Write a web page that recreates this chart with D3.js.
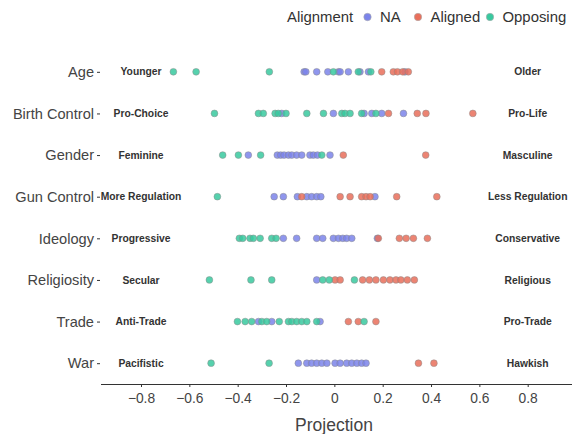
<!DOCTYPE html>
<html><head><meta charset="utf-8">
<script src="https://cdn.jsdelivr.net/npm/d3@7"></script>
<style>body{margin:0;background:#fff}svg{font-family:"Liberation Sans",Arial,sans-serif}</style>
</head><body><svg id="c" width="572" height="434"></svg>
<script>
const categories = ["Age","Birth Control","Gender","Gun Control","Ideology","Religiosity","Trade","War"];
const leftLabels = ["Younger","Pro-Choice","Feminine","More Regulation","Progressive","Secular","Anti-Trade","Pacifistic"];
const rightLabels = ["Older","Pro-Life","Masculine","Less Regulation","Conservative","Religious","Pro-Trade","Hawkish"];
const groups = ["NA","Aligned","Opposing"];
const groupColors = ["#7b84ea","#e96f5b","#38c99f"];
const xTicks = [-0.8,-0.6,-0.4,-0.2,0,0.2,0.4,0.6,0.8];

// values per category: [NA], [Aligned], [Opposing]
const naValues = [
  [-0.125,-0.118,-0.073,-0.027,0.017,0.024,0.058,0.106,0.141,0.292],
  [-0.218,-0.004,0.123,0.155,0.196,0.286],
  [-0.356,-0.236,-0.222,-0.208,-0.19,-0.176,-0.156,-0.135,-0.101,-0.087,-0.07,-0.018],
  [-0.249,-0.211,-0.153,-0.114,-0.094,-0.073,-0.056,0.168],
  [-0.211,-0.156,-0.073,-0.048,-0.004,0.017,0.035,0.051,0.072,0.178],
  [-0.073],
  [-0.314,-0.259,-0.059],
  [-0.149,-0.114,-0.094,-0.073,-0.052,-0.031,0.003,0.024,0.051,0.072,0.093,0.113,0.131]
];
const alignedValues = [
  [0.196,0.244,0.261,0.283,0.306],
  [0.224,0.343,0.379,0.573],
  [0.037,0.378],
  [-0.135,0.024,0.065,0.113,0.131,0.148,0.258,0.424],
  [0.182,0.269,0.297,0.327,0.385],
  [0.003,0.024,0.117,0.145,0.172,0.203,0.23,0.255,0.275,0.302,0.331],
  [0.058,0.099,0.172],
  [0.348,0.412]
];
const opposingValues = [
  [-0.666,-0.572,-0.269,-0.004,0.099,0.151],
  [-0.496,-0.314,-0.294,-0.245,-0.232,-0.2,-0.114,-0.045,0.031,0.044,0.065,0.113,0.172],
  [-0.462,-0.397,-0.305,-0.052],
  [-0.484],
  [-0.393,-0.379,-0.349,-0.335,-0.307,-0.259,-0.241],
  [-0.517,-0.345,-0.259,-0.048,-0.021,0.083],
  [-0.401,-0.369,-0.342,-0.3,-0.28,-0.228,-0.19,-0.176,-0.156,-0.135,-0.114,-0.073,0.123],
  [-0.51,-0.27]
];

const svg = d3.select("#c");
const x = d3.scaleLinear().domain([-0.8,0.8]).range([141,527.7]);
const y = d3.scalePoint().domain(categories).range([51,384]).padding(0.5);

const points = [];
[naValues,alignedValues,opposingValues].forEach((arr,gi)=>{
  arr.forEach((vals,ci)=>vals.forEach(v=>points.push({cat:categories[ci],v,g:gi})));
});

// x axis
const xAxis = svg.append("g").attr("transform","translate(0,384)")
  .call(d3.axisBottom(x).tickValues(xTicks).tickSize(3).tickPadding(6)
    .tickFormat(d=>d===0?"0":d3.format(".1f")(d).replace("-","\u2212")));
xAxis.select(".domain").attr("d","M101,0.5H572").attr("stroke","#333");
xAxis.selectAll(".tick line").attr("stroke","#333");
xAxis.selectAll(".tick text").attr("font-size",13.8).attr("fill","#444");
svg.append("text").attr("x",334).attr("y",431).attr("text-anchor","middle")
  .attr("font-size",17.5).attr("fill","#444").text("Projection");

// y axis
const yAxis = svg.append("g").attr("transform","translate(100,0)")
  .call(d3.axisLeft(y).tickSize(3).tickPadding(3));
yAxis.select(".domain").remove();
yAxis.selectAll(".tick line").attr("stroke","#333");
yAxis.selectAll(".tick text").attr("font-size",14.6).attr("fill","#444");

// end labels
svg.append("g").selectAll("text").data(categories).join("text")
  .attr("x",x(-0.8)).attr("y",d=>y(d)+3.6).attr("text-anchor","middle")
  .attr("font-size",10.3).attr("font-weight","bold").attr("fill","#333")
  .text((d,i)=>leftLabels[i]);
svg.append("g").selectAll("text").data(categories).join("text")
  .attr("x",x(0.8)).attr("y",d=>y(d)+3.6).attr("text-anchor","middle")
  .attr("font-size",10.3).attr("font-weight","bold").attr("fill","#333")
  .text((d,i)=>rightLabels[i]);

// points
svg.append("g").selectAll("circle").data(points).join("circle")
  .attr("cx",d=>x(d.v)).attr("cy",d=>y(d.cat)).attr("r",3.4)
  .attr("fill",d=>groupColors[d.g]).attr("fill-opacity",0.85)
  .attr("stroke","#8a8a8a").attr("stroke-opacity",0.6).attr("stroke-width",0.8);

// legend
const lg = svg.append("g").attr("font-size",14.9).attr("fill","#333");
lg.append("text").attr("x",287).attr("y",22).attr("fill","#333").text("Alignment");
const legendX = [367.5,418,490];
groups.forEach((g,i)=>{
  lg.append("circle").attr("cx",legendX[i]).attr("cy",17).attr("r",3.7)
    .attr("fill",groupColors[i]).attr("stroke","#aaa").attr("stroke-width",0.6);
  lg.append("text").attr("x",legendX[i]+12.5).attr("y",22).attr("fill","#333").text(g);
});
</script></body></html>
